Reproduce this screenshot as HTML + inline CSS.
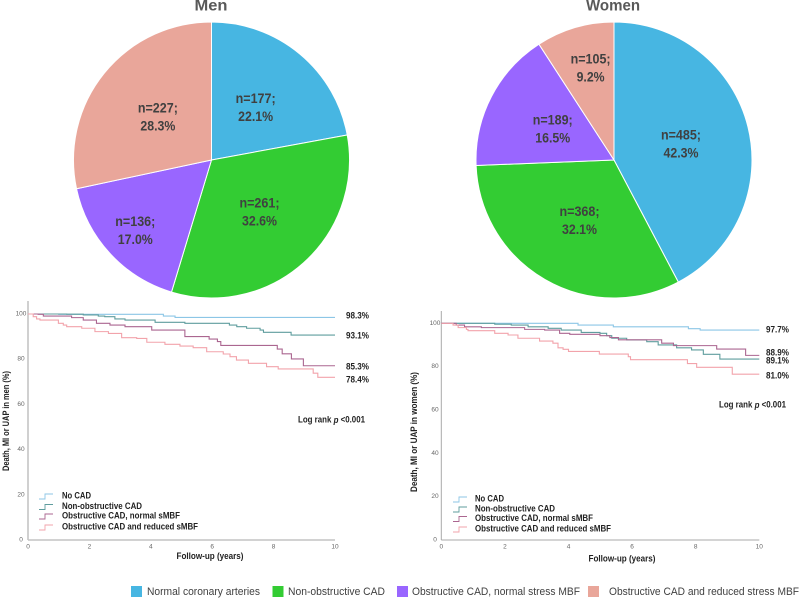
<!DOCTYPE html>
<html lang="en">
<head>
<meta charset="utf-8">
<title>CAD groups and outcomes in men and women</title>
<style>
html,body{margin:0;padding:0;background:#fff;width:800px;height:598px;overflow:hidden}
svg{display:block}
text{font-family:"Liberation Sans",sans-serif}
</style>
</head>
<body>
<svg id="figure" xmlns="http://www.w3.org/2000/svg" width="800" height="598" viewBox="0 0 800 598">
  <g id="pie-men"></g>
  <g id="pie-women"></g>
  <text x="211" y="6" text-anchor="middle" dominant-baseline="central" font-size="16" font-weight="bold" fill="#595959" textLength="33" lengthAdjust="spacingAndGlyphs">Men</text>
  <text x="613" y="6" text-anchor="middle" dominant-baseline="central" font-size="16" font-weight="bold" fill="#595959" textLength="54" lengthAdjust="spacingAndGlyphs">Women</text>

  <g id="km-men" filter="url(#soft)"></g>
  <g id="km-women" filter="url(#soft)"></g>

  <defs><filter id="soft" x="-5%" y="-5%" width="110%" height="110%"><feGaussianBlur stdDeviation="0.25"/></filter></defs>

  <g>
    <rect x="131" y="586" width="11" height="11" fill="#47b6e2"/>
    <text x="147" y="592" dominant-baseline="central" font-size="11" fill="#404040" textLength="113" lengthAdjust="spacingAndGlyphs">Normal coronary arteries</text>
    <rect x="272.500" y="586" width="11" height="11" fill="#33cc33"/>
    <text x="288" y="592" dominant-baseline="central" font-size="11" fill="#404040" textLength="97" lengthAdjust="spacingAndGlyphs">Non-obstructive CAD</text>
    <rect x="397" y="586" width="11" height="11" fill="#9966ff"/>
    <text x="412" y="592" dominant-baseline="central" font-size="11" fill="#404040" textLength="168" lengthAdjust="spacingAndGlyphs">Obstructive CAD, normal stress MBF</text>
    <rect x="588" y="586" width="11" height="11" fill="#e9a69a"/>
    <text x="609" y="592" dominant-baseline="central" font-size="11" fill="#404040" textLength="190" lengthAdjust="spacingAndGlyphs">Obstructive CAD and reduced stress MBF</text>
  </g>
</svg>

<script>
/* ---------- pie data ---------- */
const pieCategories = ["normal-coronary-arteries", "non-obstructive-cad", "obstructive-cad-normal-mbf", "obstructive-cad-reduced-mbf"];
const menCounts = [177, 261, 136, 227];
const menPercents = ["22.1%", "32.6%", "17.0%", "28.3%"];
const womenCounts = [485, 368, 189, 105];
const womenPercents = ["42.3%", "32.1%", "16.5%", "9.2%"];

/* ---------- survival data (years, % event free) ---------- */
const xTicks = [0, 2, 4, 6, 8, 10];
const yTicks = [0, 20, 40, 60, 80, 100];
const seriesNames = ["No CAD", "Non-obstructive CAD", "Obstructive CAD, normal sMBF", "Obstructive CAD and reduced sMBF"];

const menNoCadYears = [0, 1, 4.41, 4.79, 10];
const menNoCadValues = [100, 99.85, 99.1, 98.5, 98.5];
const menNonObstructiveYears = [0, 1.26, 1.8, 2.29, 2.5, 2.83, 3.16, 4.14, 5.11, 6.56, 6.8, 7.12, 7.56, 7.67, 8.57, 10];
const menNonObstructiveValues = [100, 99.9, 99.6, 99.1, 98.8, 97.8, 97.3, 96.3, 95.9, 95.1, 94.4, 93.7, 92.9, 91.9, 90.7, 90.7];
const menNormalFlowYears = [0, 0.33, 0.5, 1.42, 1.8, 2.23, 2.67, 3.16, 4.03, 5.11, 5.9, 6.17, 6.28, 8.12, 8.28, 8.58, 8.97, 10];
const menNormalFlowValues = [100, 99.85, 99.1, 98.4, 97.3, 95.9, 95.1, 94.4, 92.9, 90, 88.9, 87.8, 86.1, 84.5, 82.4, 80.1, 77.1, 77.1];
const menReducedFlowYears = [0, 0.17, 0.28, 0.39, 0.99, 1.15, 1.26, 1.75, 2.18, 2.62, 3.05, 3.54, 3.87, 4.46, 4.95, 5.38, 5.82, 6.36, 6.58, 6.79, 7.18, 7.77, 8.15, 9.29, 9.44, 10];
const menReducedFlowValues = [100, 98.8, 97.8, 97.3, 95.9, 95.1, 94.4, 93.7, 92.2, 91.4, 89.5, 89.2, 87.5, 86.6, 85.8, 85.1, 83.3, 82.3, 81.1, 79.6, 78.2, 76.7, 75.7, 73.8, 72, 72];
const menEndLabels = ["98.3%", "93.1%", "85.3%", "78.4%"];

const womenNoCadYears = [0, 4.3, 5.41, 7.77, 8.14, 10];
const womenNoCadValues = [100, 99.2, 98.4, 97.5, 96.9, 96.9];
const womenNonObstructiveYears = [0, 1.68, 2.2, 2.73, 3.36, 3.77, 4.4, 4.99, 5.2, 5.36, 5.83, 6.46, 6.82, 7.4, 7.87, 8.24, 8.76, 10];
const womenNonObstructiveValues = [100, 99.6, 99.2, 98.4, 97.7, 96.9, 95.8, 95.4, 94.3, 93.1, 92.3, 91.5, 90, 88.7, 87.7, 85.7, 83.5, 83.5];
const womenNormalFlowYears = [0, 0.47, 0.73, 1.26, 2.62, 3.25, 3.72, 4.04, 4.99, 5.3, 5.57, 6.93, 7.3, 8.66, 9.57, 10];
const womenNormalFlowValues = [100, 99.2, 98.4, 98, 97.2, 96.9, 95.4, 94.9, 94.3, 93.4, 92.4, 90.8, 89.7, 88.1, 85.2, 85.2];
const womenReducedFlowYears = [0, 0.37, 0.53, 0.79, 0.84, 1.68, 2.1, 2.41, 3.09, 3.51, 3.67, 3.83, 4, 4.97, 5.88, 5.95, 7.74, 8.03, 9.15, 10];
const womenReducedFlowValues = [100, 99.2, 98, 97.2, 96.6, 95.4, 94.6, 93.1, 91.8, 90.8, 88.7, 88, 87, 85.8, 84.6, 83.2, 81.4, 79.7, 76.5, 76.5];
const womenEndLabels = ["97.7%", "88.9%", "89.1%", "81.0%"];

/* ---------- styling (not data) ---------- */
const SVG_NS = "http://www.w3.org/2000/svg";
const sliceColors = ["#47b6e2", "#33cc33", "#9966ff", "#e9a69a"];
const lineColors = ["#8cc6e6", "#5f9d9e", "#ab6690", "#f2a3ab"];

function node(parent, tag, attrs, content) {
  const el = document.createElementNS(SVG_NS, tag);
  Object.keys(attrs).forEach(function (k) { el.setAttribute(k, attrs[k]); });
  if (content !== undefined) el.textContent = content;
  parent.appendChild(el);
  return el;
}

function drawPie(parent, cx, cy, r, counts, percents, labelFactors, labelShiftX) {
  const total = counts.reduce(function (a, b) { return a + b; }, 0);
  let acc = 0;
  counts.forEach(function (count, i) {
    const a0 = acc / total * 2 * Math.PI;
    acc += count;
    const a1 = acc / total * 2 * Math.PI;
    const large = a1 - a0 > Math.PI ? 1 : 0;
    const d = "M" + cx + " " + cy +
      "L" + (cx + r * Math.sin(a0)) + " " + (cy - r * Math.cos(a0)) +
      "A" + r + " " + r + " 0 " + large + " 1 " + (cx + r * Math.sin(a1)) + " " + (cy - r * Math.cos(a1)) + "Z";
    const slice = node(parent, "path", { d: d, fill: sliceColors[i], stroke: "#fff", "stroke-width": 1 });
    
    
  });
  acc = 0;
  counts.forEach(function (count, i) {
    const mid = (acc + count / 2) / total * 2 * Math.PI;
    acc += count;
    const lr = r * labelFactors[i];
    const lx = cx + lr * Math.sin(mid) + labelShiftX[i];
    const ly = cy - lr * Math.cos(mid);
    const countLabel = node(parent, "text", { x: lx, y: ly - 9, "text-anchor": "middle", "dominant-baseline": "central", "font-size": 14, "font-weight": "bold", fill: "#404040", textLength: 40, lengthAdjust: "spacingAndGlyphs" }, "n=" + count + ";");
    
    
    const pctLabel = node(parent, "text", { x: lx, y: ly + 9, "text-anchor": "middle", "dominant-baseline": "central", "font-size": 14, "font-weight": "bold", fill: "#404040", textLength: percents[i].length > 4 ? 35 : 28, lengthAdjust: "spacingAndGlyphs" }, percents[i]);
    
    
  });
}

function drawKM(parent, cfg) {
  const xScale = function (t) { return cfg.x0 + (t / 10) * (cfg.x10 - cfg.x0); };
  const yScale = function (v) { return cfg.y0 - (v / 100) * (cfg.y0 - cfg.y100); };

  const yAxis = node(parent, "line", { x1: cfg.x0, x2: cfg.x0, y1: cfg.axisTop, y2: cfg.y0, stroke: cfg.axisColor, "stroke-width": cfg.axisWidth });
  
  
  const xAxis = node(parent, "line", { x1: cfg.x0, x2: cfg.x10, y1: cfg.y0, y2: cfg.y0, stroke: cfg.axisColor, "stroke-width": cfg.axisWidth });
  
  

  xTicks.forEach(function (t) {
    const lab = node(parent, "text", { x: xScale(t), y: 547, "text-anchor": "middle", "dominant-baseline": "central", "font-size": 6.5, fill: "#666" }, String(t));
    
    
  });
  yTicks.forEach(function (v) {
    const lab = node(parent, "text", { x: cfg.yLabelX, y: yScale(v), "text-anchor": "middle", "dominant-baseline": "central", "font-size": 6.5, fill: "#666" }, String(v));
    
    
  });

  const yTitle = node(parent, "text", { transform: "translate(" + cfg.yTitleX + "," + cfg.yTitleY + ") rotate(-90)", "text-anchor": "middle", "dominant-baseline": "central", "font-size": 9, "font-weight": "bold", fill: "#222", textLength: cfg.yTitleLen, lengthAdjust: "spacingAndGlyphs" }, cfg.yTitle);
  
  
  const xTitle = node(parent, "text", { x: cfg.xTitleX, y: cfg.xTitleY, "text-anchor": "middle", "dominant-baseline": "central", "font-size": 9, "font-weight": "bold", fill: "#222", textLength: 67, lengthAdjust: "spacingAndGlyphs" }, "Follow-up (years)");
  
  

  cfg.series.forEach(function (s, i) {
    let d = "M" + xScale(s.years[0]) + " " + yScale(s.values[0]);
    for (let k = 1; k < s.years.length; k++) {
      d += "H" + xScale(s.years[k]) + "V" + yScale(s.values[k]);
    }
    const line = node(parent, "path", { d: d, fill: "none", stroke: lineColors[i], "stroke-width": 1.1 });
    
    
  });

  cfg.endLabels.forEach(function (txt, i) {
    const lab = node(parent, "text", { x: cfg.endLabelX, y: cfg.endLabelY[i], "dominant-baseline": "central", "font-size": 9.5, "font-weight": "bold", fill: "#222", textLength: 23, lengthAdjust: "spacingAndGlyphs" }, txt);
    
    
  });

  const log = node(parent, "text", { x: cfg.logX, y: cfg.logY, "dominant-baseline": "central", "font-size": 9.5, "font-weight": "bold", fill: "#222", textLength: 67, lengthAdjust: "spacingAndGlyphs" });
  
  
  log.appendChild(document.createTextNode("Log rank "));
  const em = node(log, "tspan", { "font-style": "italic" }, "p");
  
  
  log.appendChild(document.createTextNode(" <0.001"));

  const legendWidths = [29, 80, 118, 136];
  seriesNames.forEach(function (name, i) {
    const ly = cfg.legendY[i];
    const icon = node(parent, "path", { d: "M" + cfg.legendIconX + " " + (ly + 3) + "h6v-5h8", fill: "none", stroke: lineColors[i], "stroke-width": 0.9 });
    
    
    const lab = node(parent, "text", { x: cfg.legendTextX, y: ly, "dominant-baseline": "central", "font-size": 9.5, "font-weight": "bold", fill: "#222", textLength: legendWidths[i], lengthAdjust: "spacingAndGlyphs" }, name);
    
    
  });
}

drawPie(document.getElementById("pie-men"), 211.5, 160, 138, menCounts, menPercents, [0.5, 0.5, 0.75, 0.5], [0, 2, 0, 0]);
drawPie(document.getElementById("pie-women"), 614, 160, 138, womenCounts, womenPercents, [0.5, 0.5, 0.5, 0.7], [0, 0, 0, 4]);

drawKM(document.getElementById("km-men"), {
  x0: 28, x10: 335, y0: 540, y100: 314, axisTop: 301, axisColor: "#c4c4c4", axisWidth: 1.6,
  yLabelX: 21, yTitle: "Death, MI or UAP in men (%)", yTitleX: 6, yTitleY: 421, yTitleLen: 100,
  xTitleX: 210, xTitleY: 556,
  series: [
    { years: menNoCadYears, values: menNoCadValues },
    { years: menNonObstructiveYears, values: menNonObstructiveValues },
    { years: menNormalFlowYears, values: menNormalFlowValues },
    { years: menReducedFlowYears, values: menReducedFlowValues }
  ],
  endLabels: menEndLabels, endLabelX: 346, endLabelY: [316, 336, 367, 380],
  logX: 298, logY: 420,
  legendIconX: 39, legendTextX: 62, legendY: [496, 506.5, 516, 527]
});

drawKM(document.getElementById("km-women"), {
  x0: 441.3, x10: 759.3, y0: 540, y100: 323.3, axisTop: 311, axisColor: "#a8a8a8", axisWidth: 1,
  yLabelX: 435, yTitle: "Death, MI or UAP in women (%)", yTitleX: 414, yTitleY: 432, yTitleLen: 120,
  xTitleX: 622, xTitleY: 558.5,
  series: [
    { years: womenNoCadYears, values: womenNoCadValues },
    { years: womenNonObstructiveYears, values: womenNonObstructiveValues },
    { years: womenNormalFlowYears, values: womenNormalFlowValues },
    { years: womenReducedFlowYears, values: womenReducedFlowValues }
  ],
  endLabels: womenEndLabels, endLabelX: 766, endLabelY: [330, 353, 361, 376],
  logX: 719, logY: 405,
  legendIconX: 453, legendTextX: 475, legendY: [499, 509, 518.5, 529]
});
</script>
</body>
</html>
